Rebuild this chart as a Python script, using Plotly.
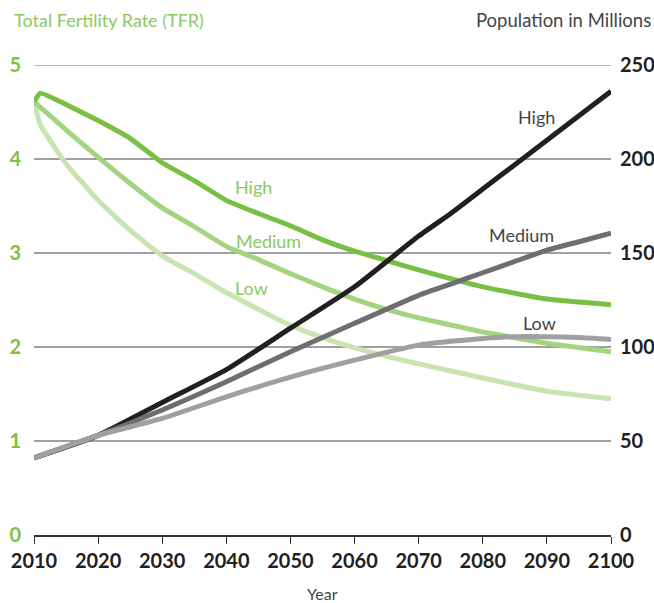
import plotly.graph_objects as go

# TFR data (left axis)
tfr_years = [2010, 2011, 2015, 2020, 2025, 2030, 2035, 2040, 2045, 2050, 2055, 2060, 2065, 2070, 2080, 2090, 2100]
tfr_high = [4.61, 4.70, 4.58, 4.41, 4.22, 3.96, 3.77, 3.56, 3.42, 3.29, 3.14, 3.02, 2.92, 2.82, 2.64, 2.51, 2.45]
tfr_medium = [4.61, 4.55, 4.31, 4.02, 3.74, 3.48, 3.28, 3.07, 2.93, 2.78, 2.64, 2.51, 2.40, 2.31, 2.16, 2.04, 1.95]
tfr_low = [4.61, 4.36, 3.95, 3.56, 3.24, 2.97, 2.78, 2.58, 2.40, 2.23, 2.10, 1.99, 1.90, 1.82, 1.67, 1.53, 1.45]

# Population data (right axis, millions)
pop_years = [2010, 2020, 2030, 2040, 2050, 2060, 2070, 2075, 2080, 2085, 2090, 2095, 2100]
pop_high = [41, 53, 70.5, 88, 110, 132, 159, 171, 184, 197, 210, 223, 236]
pop_medium = [41, 53, 66.5, 81.5, 97.5, 112.6, 127.5, 133.5, 139.5, 145.5, 151.5, 156, 160.5]
pop_low = [41, 53, 62, 73.5, 84, 93, 101, 103, 104.5, 105.5, 105.5, 105, 104]

x_ticks = [2010, 2020, 2030, 2040, 2050, 2060, 2070, 2080, 2090, 2100]
tfr_ticks = [0, 1, 2, 3, 4, 5]
pop_ticks = [0, 50, 100, 150, 200, 250]

FONT = "Lato"
GREEN_T = "#7dc242"
GREEN_LBL = "#8cc85f"
DARK = "#231f20"
GRID = "#a0a0a0"

fig = go.Figure()

pop_styles = [(pop_high, "#231f20"), (pop_medium, "#6d6e70"), (pop_low, "#a0a0a2")]
for vals, col in pop_styles:
    fig.add_trace(go.Scatter(x=pop_years, y=vals, yaxis="y2", mode="lines",
                             line=dict(color=col, width=5, shape="spline", smoothing=0.5),
                             showlegend=False, hoverinfo="skip"))

tfr_styles = [(tfr_low, "#c8e4b0"), (tfr_medium, "#a4d480"), (tfr_high, "#78c043")]
for vals, col in tfr_styles:
    fig.add_trace(go.Scatter(x=tfr_years, y=vals, yaxis="y", mode="lines",
                             line=dict(color=col, width=5, shape="spline", smoothing=0.35),
                             showlegend=False, hoverinfo="skip"))

annots = [
    dict(x=2044.2, y=3.70, yref="y", text="High", color=GREEN_LBL),
    dict(x=2046.5, y=3.13, yref="y", text="Medium", color=GREEN_LBL),
    dict(x=2043.9, y=2.63, yref="y", text="Low", color=GREEN_LBL),
    dict(x=2088.4, y=222.3, yref="y2", text="High", color="#444444"),
    dict(x=2086.1, y=159.6, yref="y2", text="Medium", color="#444444"),
    dict(x=2088.9, y=112.8, yref="y2", text="Low", color="#444444"),
]
for a in annots:
    fig.add_annotation(x=a["x"], y=a["y"], xref="x", yref=a["yref"], text=a["text"],
                       showarrow=False, font=dict(family=FONT, size=18, color=a["color"]))

# top gridline at 5
fig.add_shape(type="line", xref="paper", yref="y", x0=0, x1=1, y0=5, y1=5,
              line=dict(color=GRID, width=1.5), layer="below")

# Axis titles
fig.add_annotation(x=0, xref="paper", xanchor="left", xshift=-22, y=1, yref="paper", yanchor="middle",
                   yshift=45, text="Total Fertility Rate (TFR)", showarrow=False,
                   font=dict(family=FONT, size=18, color=GREEN_LBL))
fig.add_annotation(x=1, xref="paper", xanchor="right", xshift=42, y=1, yref="paper", yanchor="middle",
                   yshift=45, text="Population in Millions", showarrow=False,
                   font=dict(family=FONT, size=18.5, color="#444444"))
fig.add_annotation(x=0.5, xref="paper", xanchor="center", y=0, yref="paper", yanchor="middle",
                   yshift=-58, text="Year", showarrow=False,
                   font=dict(family=FONT, size=16, color="#444444"))

fig.update_layout(
    width=654, height=603,
    margin=dict(l=34, r=43, t=65, b=68, autoexpand=False),
    paper_bgcolor="white", plot_bgcolor="white",
    font=dict(family=FONT),
    xaxis=dict(range=[2010, 2100], tickvals=x_ticks, ticktext=[str(v) for v in x_ticks],
               automargin=False,
               showgrid=False, zeroline=False, showline=True, linecolor="#333333", linewidth=1.5,
               ticks="outside", ticklen=7, tickcolor="#333333", tickwidth=1.2,
               tickfont=dict(family=FONT, size=20, color=DARK, weight="bold")),
    yaxis=dict(range=[0, 5], tickvals=tfr_ticks, showgrid=True, gridcolor=GRID, gridwidth=1.5,
               automargin=False,
               zeroline=False, showline=False, ticks="outside", ticklen=8,
               tickcolor="rgba(0,0,0,0)",
               tickfont=dict(family=FONT, size=20, color=GREEN_T, weight="bold")),
    yaxis2=dict(range=[0, 250], tickvals=pop_ticks, overlaying="y", side="right", showgrid=False,
                automargin=False,
                zeroline=False, showline=False, ticks="outside", ticklen=4,
                tickcolor="rgba(0,0,0,0)",
                tickfont=dict(family=FONT, size=20, color=DARK, weight="bold")),
)

fig.write_html("out.html", config={"displayModeBar": False},
               post_script="document.body.style.margin='0';document.body.style.overflow='hidden';")
